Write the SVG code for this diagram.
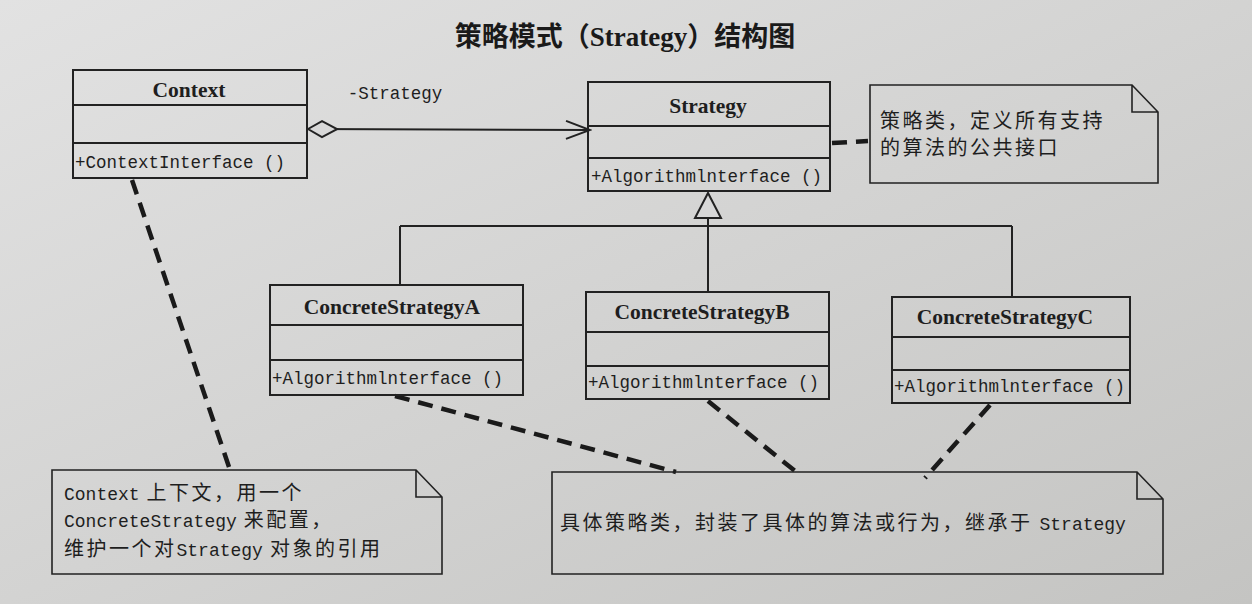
<svg xmlns="http://www.w3.org/2000/svg" width="1252" height="604" viewBox="0 0 1252 604">
<defs>
<linearGradient id="bg" x1="0" y1="0" x2="1" y2="1">
<stop offset="0" stop-color="#e2e2e2"/>
<stop offset="0.5" stop-color="#d3d3d2"/>
<stop offset="1" stop-color="#c4c4c2"/>
</linearGradient>
<marker id="open" markerWidth="28" markerHeight="20" refX="26" refY="10" orient="auto" markerUnits="userSpaceOnUse">
<path d="M2,1 L26,10 L2,19" fill="none" stroke="#222" stroke-width="2"/>
</marker>
<marker id="diamond" markerWidth="32" markerHeight="20" refX="1" refY="10" orient="auto" markerUnits="userSpaceOnUse">
<path d="M1,10 L15,2 L30,10 L15,18 Z" fill="#d8d8d8" stroke="#222" stroke-width="2"/>
</marker>
</defs>
<style>
.box{fill:none;stroke:#222;stroke-width:2}
.sep{stroke:#222;stroke-width:2}
.name{font-family:"Liberation Serif",serif;font-weight:bold;font-size:21.5px;fill:#1e1e1e;text-anchor:middle}
.meth{font-family:"Liberation Mono",monospace;font-size:17.5px;fill:#1e1e1e}
.note{fill:none;stroke:#222;stroke-width:1.6}
.ntxt{font-family:"Noto Sans CJK SC",sans-serif;font-size:20px;letter-spacing:2.5px;fill:#1e1e1e}
.lat{font-family:"Liberation Mono",monospace;letter-spacing:0}
.dash{fill:none;stroke:#1a1a1a;stroke-width:4.5;stroke-dasharray:15 9}
.line{fill:none;stroke:#222;stroke-width:2}
</style>
<rect x="0" y="0" width="1252" height="604" fill="url(#bg)"/>
<text x="625" y="46" text-anchor="middle" font-family="'Noto Sans CJK SC',sans-serif" font-weight="bold" font-size="27" fill="#1a1a1a">策略模式（<tspan font-family="'Liberation Serif',serif">Strategy</tspan>）结构图</text>

<g id="connectors">
<line class="line" x1="308" y1="129" x2="590" y2="130" marker-start="url(#diamond)" marker-end="url(#open)"/>
<text x="395" y="99" class="meth" font-size="18" text-anchor="middle">-Strategy</text>
<polygon points="708,193 695,218 721,218" fill="#d8d8d8" stroke="#222" stroke-width="2"/>
<path class="line" d="M708,218 V226 M400,226 H1012 M400,226 V285 M708,226 V292 M1012,226 V297"/>
<path class="dash" d="M832,143 L868,141"/>
<path class="dash" d="M132,180 L230,470"/>
<path class="dash" d="M395,396 L676,472"/>
<path class="dash" d="M708,401 L800,475"/>
<path class="dash" d="M990,405 L925,478"/>
</g>

<g id="context">
<rect class="box" x="73" y="70" width="234" height="108"/>
<line class="sep" x1="73" y1="105" x2="307" y2="105"/>
<line class="sep" x1="73" y1="143" x2="307" y2="143"/>
<text class="name" x="189" y="97">Context</text>
<text class="meth" x="75" y="168">+ContextInterface ()</text>
</g>

<g id="strategy">
<rect class="box" x="588" y="82" width="242" height="109"/>
<line class="sep" x1="588" y1="126" x2="830" y2="126"/>
<line class="sep" x1="588" y1="158" x2="830" y2="158"/>
<text class="name" x="708" y="113">Strategy</text>
<text class="meth" x="591" y="182">+Algorithmlnterface ()</text>
</g>

<g id="note-strategy">
<path class="note" d="M870,85 H1132 L1158,112 V183 H870 Z M1132,85 V112 H1158"/>
<text class="ntxt" x="880" y="128" letter-spacing="5">策略类，定义所有支持</text>
<text class="ntxt" x="880" y="155" letter-spacing="5">的算法的公共接口</text>
</g>

<g id="concreteA">
<rect class="box" x="270" y="285" width="253" height="110"/>
<line class="sep" x1="270" y1="325" x2="523" y2="325"/>
<line class="sep" x1="270" y1="360" x2="523" y2="360"/>
<text class="name" x="392" y="314">ConcreteStrategyA</text>
<text class="meth" x="272" y="384">+Algorithmlnterface ()</text>
</g>

<g id="concreteB">
<rect class="box" x="586" y="292" width="243" height="107"/>
<line class="sep" x1="586" y1="332" x2="829" y2="332"/>
<line class="sep" x1="586" y1="366" x2="829" y2="366"/>
<text class="name" x="702" y="319">ConcreteStrategyB</text>
<text class="meth" x="588" y="388">+Algorithmlnterface ()</text>
</g>

<g id="concreteC">
<rect class="box" x="892" y="297" width="238" height="106"/>
<line class="sep" x1="892" y1="337" x2="1130" y2="337"/>
<line class="sep" x1="892" y1="370" x2="1130" y2="370"/>
<text class="name" x="1005" y="324">ConcreteStrategyC</text>
<text class="meth" x="894" y="392">+Algorithmlnterface ()</text>
</g>

<g id="note-context">
<path class="note" d="M52,470 H416 L442,497 V574 H52 Z M416,470 V497 H442"/>
<text class="ntxt" x="64" y="500"><tspan class="lat" font-size="18">Context</tspan> 上下文，用一个</text>
<text class="ntxt" x="64" y="527"><tspan class="lat" font-size="18">ConcreteStrategy</tspan> 来配置，</text>
<text class="ntxt" x="64" y="556">维护一个对<tspan class="lat" font-size="18">Strategy</tspan> 对象的引用</text>
</g>

<g id="note-concrete">
<path class="note" d="M552,472 H1137 L1163,499 V574 H552 Z M1137,472 V499 H1163"/>
<text class="ntxt" x="560" y="530">具体策略类，封装了具体的算法或行为，继承于 <tspan class="lat" font-size="18">Strategy</tspan></text>
</g>
</svg>
